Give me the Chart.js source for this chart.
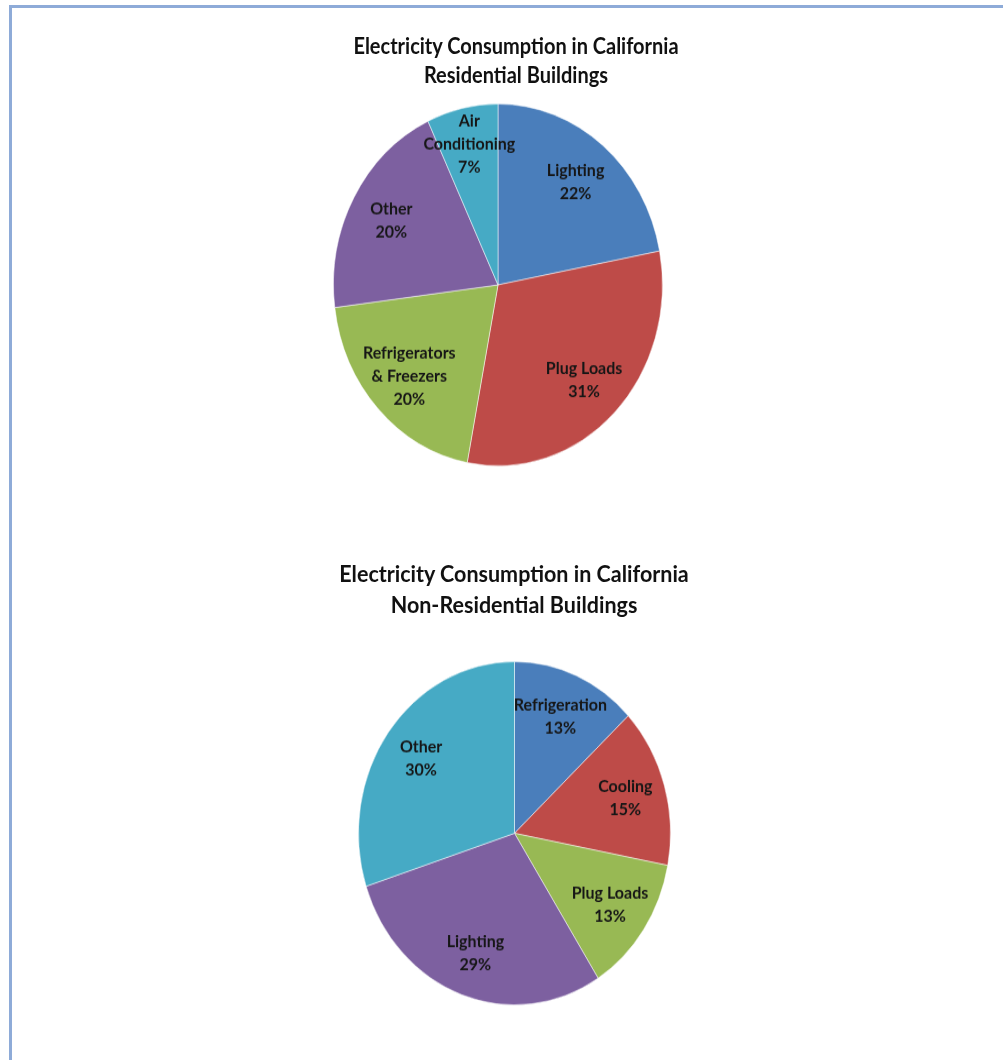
<!DOCTYPE html>
<html>
<head>
<meta charset="utf-8">
<script src="https://cdn.jsdelivr.net/npm/chart.js@4"></script>
<style>
  html, body { margin: 0; padding: 0; background: #fff; overflow: hidden; }
  body { width: 1003px; height: 1060px; position: relative; }
  .frame {
    position: absolute; left: 9px; top: 5px; width: 1100px; height: 1100px;
    border-left: 3px solid #8eabd8; border-top: 3px solid #8eabd8;
  }
  /* the original picture is stretched vertically by about 10% */
  .sheet {
    position: absolute; left: 0; top: 0; width: 1003px; height: 964px;
    transform: scaleY(1.1); transform-origin: 0 0;
  }
  .title {
    position: absolute; width: 600px; text-align: center;
    font-family: Lato, "Open Sans", sans-serif; font-weight: bold; color: #111;
  }
  .box { position: absolute; }
</style>
</head>
<body>
<div class="frame"></div>
<div class="sheet">
  <div class="title" id="title1" style="left:216px; top:29px; font-size:20px; line-height:25.5px;"></div>
  <div class="box" style="left:333px; top:94px; width:330px; height:330px;"><canvas id="resChart"></canvas></div>

  <div class="title" id="title2" style="left:214px; top:507px; font-size:21.5px; line-height:28px;"></div>
  <div class="box" style="left:358px; top:601px; width:313px; height:313px;"><canvas id="nonResChart"></canvas></div>
</div>

<script>
// Residential buildings (%)
const resTitle = ["Electricity Consumption in California", "Residential Buildings"];
const resLabels = ["Lighting", "Plug Loads", ["Refrigerators", "& Freezers"], "Other", ["Air", "Conditioning"]];
const resValues = [22, 31, 20, 20, 7];

// Non-residential buildings (%)
const nonResTitle = ["Electricity Consumption in California", "Non-Residential Buildings"];
const nonResLabels = ["Refrigeration", "Cooling", "Plug Loads", "Lighting", "Other"];
const nonResValues = [13, 15, 13, 29, 30];

// Excel 2007 style palette
const sliceColors = ["#4a7ebb", "#be4b48", "#98b954", "#7d60a0", "#46aac5"];

document.getElementById("title1").innerHTML = resTitle.join("<br>");
document.getElementById("title2").innerHTML = nonResTitle.join("<br>");

// Draws "label / value%" inside every slice, like Excel's data labels
const sliceLabels = {
    id: "sliceLabels",
    afterDatasetsDraw(chart) {
        const ctx = chart.ctx;
        const meta = chart.getDatasetMeta(0);
        const values = chart.data.datasets[0].data;
        ctx.save();
        ctx.font = "bold 16px Lato, 'Open Sans', sans-serif";
        ctx.fillStyle = "#161616";
        ctx.textAlign = "center";
        ctx.textBaseline = "middle";
        meta.data.forEach((arc, i) => {
            const mid = (arc.startAngle + arc.endAngle) / 2;
            const dist = arc.outerRadius * (values[i] < 10 ? 0.8 : 0.74);
            const x = arc.x + Math.cos(mid) * dist;
            const y = arc.y + Math.sin(mid) * dist;
            const label = chart.data.labels[i];
            const lines = (Array.isArray(label) ? label : [label]).concat(values[i] + "%");
            const lh = 21;
            lines.forEach((line, j) => {
                ctx.fillText(line, x, y + (j - (lines.length - 1) / 2) * lh);
            });
        });
        ctx.restore();
    }
};

function makePie(canvasId, labels, values) {
    const ctx = document.getElementById(canvasId).getContext("2d");
    return new Chart(ctx, {
        type: "pie",
        data: {
            labels: labels,
            datasets: [{
                data: values,
                backgroundColor: sliceColors,
                borderColor: "rgba(255,255,255,0.5)",
                borderWidth: 1
            }]
        },
        options: {
            responsive: true,
            maintainAspectRatio: false,
            animation: false,
            layout: { padding: 0 },
            plugins: {
                legend: { display: false },
                tooltip: { enabled: false }
            }
        },
        plugins: [sliceLabels]
    });
}

makePie("resChart", resLabels, resValues);
makePie("nonResChart", nonResLabels, nonResValues);
</script>
</body>
</html>
